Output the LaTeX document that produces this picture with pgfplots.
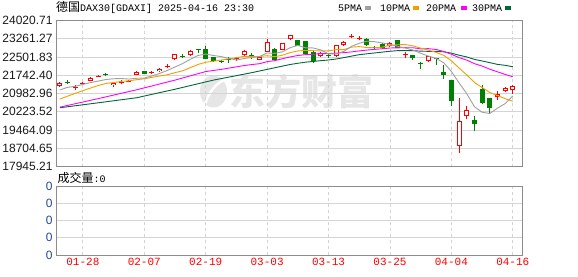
\documentclass[border=0pt]{standalone}
\usepackage{fontspec}
\setmainfont{Liberation Sans}
\newfontfamily\cjk{Noto Sans CJK SC}
\newfontfamily\mono{Liberation Mono}
\usepackage{pgfplots}
\pgfplotsset{compat=1.18}
\usepackage{pgfplotstable}

\definecolor{cred}{RGB}{255,0,0}
\definecolor{cgreen}{RGB}{0,128,0}
\definecolor{ma5}{RGB}{160,160,160}
\definecolor{ma10}{RGB}{240,160,0}
\definecolor{ma20}{RGB}{255,0,255}
\definecolor{ma30}{RGB}{0,104,55}
\definecolor{gridc}{RGB}{212,212,212}
\definecolor{framec}{RGB}{140,140,140}
\definecolor{wm}{RGB}{230,230,230}
\definecolor{volc}{RGB}{40,70,150}

% up (red) candles: index, open, high, low, close
\pgfplotstableread{
x O H L C
0 21290 21450 21260 21410
2 21230 21320 21110 21270
3 21390 21480 21320 21430
4 21515 21660 21500 21637
5 21685 21760 21670 21727
7 21330 21460 21250 21430
8 21440 21525 21360 21480
9 21470 21560 21450 21520
10 21760 21910 21740 21890
12 21830 21900 21810 21870
13 21900 22030 21880 22010
14 22100 22220 22040 22140
15 22410 22640 22390 22606
17 22578 22790 22560 22760
23 22400 22494 22330 22440
24 22578 22780 22560 22760
26 22386 22500 22360 22482
27 22719 23260 22700 23135
29 22802 23100 22780 23077
30 23230 23420 23200 23397
34 22523 22700 22500 22661
36 22535 23020 22520 22994
37 22981 23160 22960 23140
38 23340 23470 23300 23380
39 23250 23360 23200 23288
43 22939 23130 22920 23093
45 22590 22700 22470 22640
48 22328 22540 22300 22523
52 18791 20806 18500 19819
53 20027 20472 19915 20277
57 20832 21067 20722 20942
58 21080 21260 21040 21221
59 21137 21320 20970 21304
}\uptab

% hollow bodies (large up candles)
\pgfplotstableread{
x O C
0 21290 21410
4 21515 21637
7 21330 21430
10 21760 21890
13 21900 22010
15 22410 22606
17 22578 22760
24 22578 22760
26 22386 22482
27 22719 23135
29 22802 23077
30 23230 23397
34 22523 22661
36 22535 22994
37 22981 23140
43 22939 23093
48 22328 22523
52 18791 19819
53 20027 20277
57 20832 20942
58 21080 21221
59 21137 21304
}\hollowtab

% down (green) candles
\pgfplotstableread{
x O H L C
1 21470 21530 21390 21440
6 21790 21830 21700 21760
11 21900 21920 21790 21800
16 22560 22620 22480 22520
18 22830 22840 22680 22800
19 22827 22940 22400 22427
20 22494 22520 22290 22316
21 22330 22370 22250 22290
22 22430 22520 22260 22390
25 22570 22680 22400 22530
28 22843 22870 22320 22357
31 23189 23210 22940 22968
32 23147 23160 22600 22620
33 22700 22750 22250 22328
35 22600 22680 22450 22567
40 23260 23300 22950 22999
41 22930 22940 22780 22890
42 23051 23070 22850 22870
44 23189 23210 22860 22885
46 22565 22580 22386 22460
47 22240 22290 22010 22200
49 22440 22460 22150 22400
50 21872 22150 21596 21733
51 21524 21560 20443 20652
54 19860 20027 19416 19694
55 21180 21317 20560 20582
56 20790 20800 20140 20372
}\downtab

\pgfplotstableread{
x m
0 21130
1 21238
2 21283
3 21361
4 21437
5 21501
6 21565
7 21597
8 21607
9 21583
10 21616
11 21624
12 21712
13 21818
14 21942
15 22085
16 22229
17 22407
18 22565
19 22623
20 22565
21 22519
22 22445
23 22373
24 22439
25 22482
26 22520
27 22669
28 22653
29 22716
30 22890
31 22987
32 22884
33 22878
34 22795
35 22629
36 22634
37 22738
38 22948
39 23074
40 23160
41 23139
42 23085
43 23028
44 22947
45 22876
46 22790
47 22656
48 22542
49 22445
50 22263
51 21902
52 21425
53 20976
54 20435
55 20205
56 20149
57 20373
58 20562
59 20884
}\mafive

\pgfplotstableread{
x m
0 20750
1 20872
2 20986
3 21102
4 21208
5 21316
6 21401
7 21440
8 21484
9 21510
10 21558
11 21594
12 21654
13 21712
14 21763
15 21851
16 21927
17 22060
18 22192
19 22282
20 22325
21 22374
22 22426
23 22469
24 22531
25 22523
26 22520
27 22557
28 22513
29 22578
30 22686
31 22754
32 22777
33 22765
34 22756
35 22759
36 22810
37 22811
38 22913
39 22934
40 22895
41 22887
42 22912
43 22988
44 23011
45 23018
46 22965
47 22871
48 22785
49 22696
50 22569
51 22346
52 22041
53 21759
54 21440
55 21234
56 21025
57 20899
58 20769
59 20660
}\maten

\pgfplotstableread{
x m
0 20415
5 20770
10 21137
15 21540
19 21896
20 21942
21 21984
22 22040
23 22091
24 22147
25 22187
26 22223
27 22308
28 22352
29 22430
30 22505
31 22564
32 22601
33 22617
34 22643
35 22641
36 22665
37 22684
38 22713
39 22756
40 22790
41 22820
42 22844
43 22877
44 22883
45 22889
46 22887
47 22841
48 22849
49 22815
50 22732
51 22616
52 22476
53 22374
54 22225
55 22126
56 21995
57 21885
58 21777
59 21678
}\matwenty

\pgfplotstableread{
x m
0 20390
5 20596
10 20806
15 21160
20 21540
25 21850
29 22123
30 22190
31 22241
32 22286
33 22316
34 22350
35 22378
36 22419
37 22476
38 22539
39 22598
40 22635
41 22671
42 22705
43 22741
44 22766
45 22767
46 22765
47 22746
48 22737
49 22736
50 22717
51 22662
52 22576
53 22504
54 22402
55 22337
56 22267
57 22194
58 22156
59 22097
}\mathirty

\pgfplotsset{
  candle/.style={draw=none, mark=none, forget plot,
    error bars/.cd, y dir=plus, y explicit, error mark=none,
    error mark options={draw=none}},
}

\begin{document}
\begin{tikzpicture}[x=1pt,y=1pt]
\useasboundingbox (0pt,0pt) rectangle (578pt,276pt);
\fill[white] (0pt,0pt) rectangle (578pt,276pt);

% watermark
\fill[wm] (213.5pt,184.5pt) ellipse [x radius=13.5pt, y radius=16pt];
\draw[white, line width=2.5pt] (205pt,172pt) .. controls (210pt,186pt) and (216pt,192pt) .. (224pt,196pt);
\node[anchor=west, inner sep=0pt, text=wm] at (229pt,184.5pt) {\cjk\bfseries\fontsize{36}{36}\selectfont 东方财富};

% title
\node[anchor=west, inner sep=0pt] at (56pt,268.5pt) {{\cjk\fontsize{12}{12}\selectfont 德国}{\mono\fontsize{10}{10}\selectfont DAX30[GDAXI] 2025-04-16 23:30}};

% legend
\node[anchor=west, inner sep=0pt] at (338pt,268pt) {\mono\fontsize{10}{10}\selectfont 5PMA};
\fill[ma5] (365pt,266pt) rectangle (371pt,270pt);
\node[anchor=west, inner sep=0pt] at (380pt,268pt) {\mono\fontsize{10}{10}\selectfont 10PMA};
\fill[ma10] (413pt,266pt) rectangle (419pt,270pt);
\node[anchor=west, inner sep=0pt] at (426pt,268pt) {\mono\fontsize{10}{10}\selectfont 20PMA};
\fill[ma20] (461pt,266pt) rectangle (467pt,270pt);
\node[anchor=west, inner sep=0pt] at (472pt,268pt) {\mono\fontsize{10}{10}\selectfont 30PMA};
\fill[ma30] (505pt,266pt) rectangle (511pt,270pt);

% volume label
\node[anchor=west, inner sep=0pt] at (57.5pt,98pt) {{\cjk\fontsize{12}{12}\selectfont 成交量}{\mono\fontsize{10}{10}\selectfont :0}};

\begin{axis}[
  at={(56pt,255.5pt)}, anchor=north west,
  scale only axis, width=466pt, height=146pt,
  xmin=-0.5, xmax=60.2, ymin=17945.21, ymax=24020.71,
  enlargelimits=false,
  scaled y ticks=false,
  axis line style={framec, line width=1pt},
  xtick={3,11,19,27,35,43,51,59}, xticklabels={,,,,,,,},
  ytick={17945.21,18704.65,19464.09,20223.52,20982.96,21742.40,22501.83,23261.27,24020.71},
  yticklabels={17945.21,18704.65,19464.09,20223.52,20982.96,21742.40,22501.83,23261.27,24020.71},
  yticklabel style={font=\fontsize{12}{12}\selectfont, text=black!90},
  major tick length=0pt,
  xmajorgrids, ymajorgrids,
  x grid style={gridc, dash pattern=on 3pt off 3pt, line width=0.9pt},
  y grid style={gridc, line width=0.9pt},
]
% wicks
\addplot[candle, error bar style={draw=cred, line width=1pt}]
  table[x=x, y=L, y error plus expr=\thisrow{H}-\thisrow{L}] {\uptab};
\addplot[candle, error bar style={draw=cgreen, line width=1pt}]
  table[x=x, y=L, y error plus expr=\thisrow{H}-\thisrow{L}] {\downtab};
% bodies
\addplot[candle, error bar style={draw=cred, line width=5pt}]
  table[x=x, y=O, y error plus expr=\thisrow{C}-\thisrow{O}] {\uptab};
\addplot[candle, error bar style={draw=white, line width=3pt, shorten <=1pt, shorten >=1pt}]
  table[x=x, y=O, y error plus expr=\thisrow{C}-\thisrow{O}] {\hollowtab};
\addplot[candle, error bar style={draw=cgreen, line width=5pt}]
  table[x=x, y=C, y error plus expr=\thisrow{O}-\thisrow{C}] {\downtab};
% moving averages
\addplot[ma30, line width=0.9pt, mark=none] table[x=x, y=m] {\mathirty};
\addplot[ma20, line width=0.9pt, mark=none] table[x=x, y=m] {\matwenty};
\addplot[ma10, line width=0.9pt, mark=none] table[x=x, y=m] {\maten};
\addplot[ma5, line width=0.9pt, mark=none] table[x=x, y=m] {\mafive};
\end{axis}

\begin{axis}[
  at={(56pt,90pt)}, anchor=north west,
  scale only axis, width=466pt, height=69pt,
  xmin=-0.5, xmax=60.2, ymin=0, ymax=4,
  enlargelimits=false,
  axis line style={framec, line width=1pt},
  xtick={3,11,19,27,35,43,51,59},
  xticklabels={01-28,02-07,02-19,03-03,03-13,03-25,04-04,04-16},
  xticklabel style={font=\mono\fontsize{11}{11}\selectfont, text=cred},
  ytick={0,1,2,3,4}, yticklabels={0,0,0,0,0},
  yticklabel style={font=\fontsize{12}{12}\selectfont, text=volc},
  major tick length=0pt,
  xmajorgrids, ymajorgrids,
  x grid style={gridc, dash pattern=on 3pt off 3pt, line width=0.9pt},
  y grid style={gridc, line width=0.9pt},
]
\end{axis}
\end{tikzpicture}
\end{document}
